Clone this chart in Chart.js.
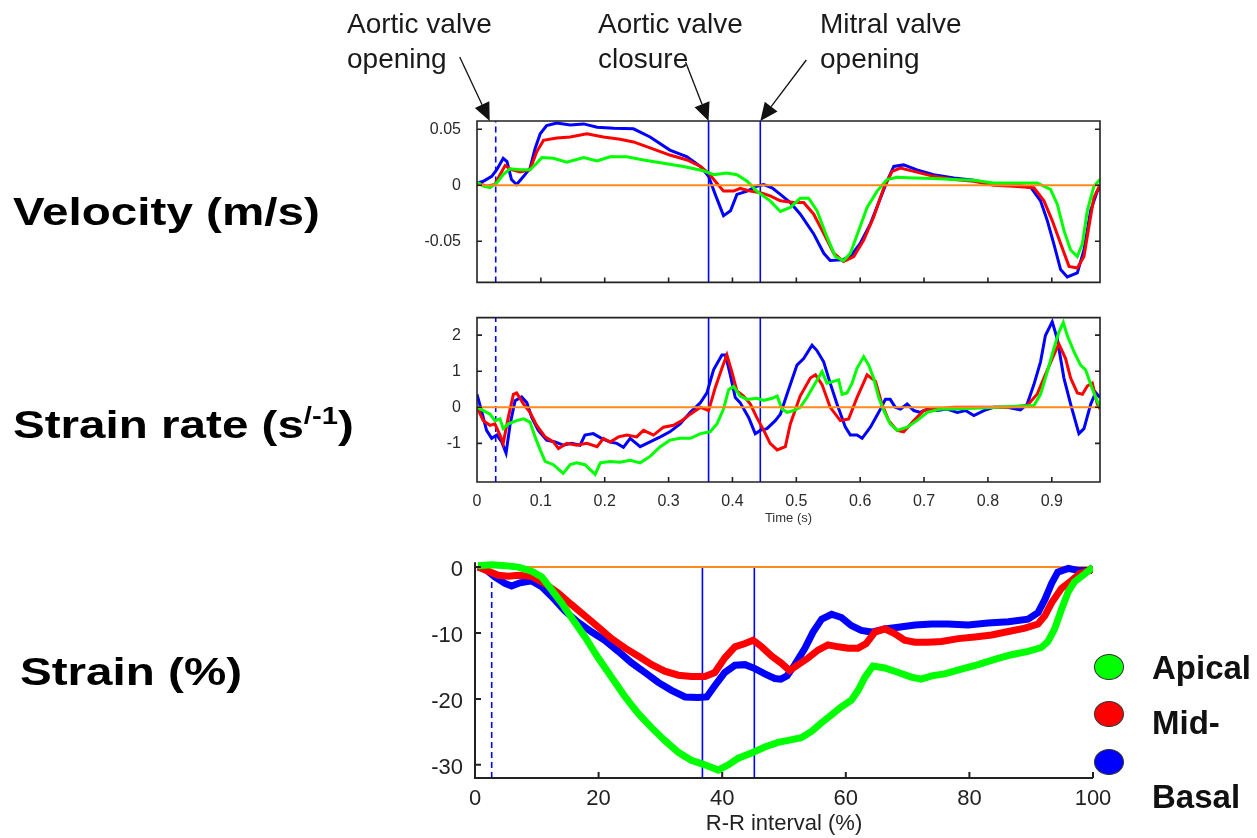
<!DOCTYPE html>
<html>
<head>
<meta charset="utf-8">
<script src="https://cdn.jsdelivr.net/npm/chart.js@4.4.1/dist/chart.umd.min.js"></script>
<style>
body { margin: 0; background: #fff; width: 1257px; height: 838px; overflow: hidden; position: relative; font-family: "Liberation Sans", Arial, sans-serif; }
canvas { position: absolute; left: 0; }
.lab { position: absolute; font-weight: bold; font-size: 39px; line-height: 39px; white-space: nowrap; transform: scaleX(1.22); transform-origin: 0 0; color: #000; }
.lab sup { font-size: 24px; vertical-align: 14px; line-height: 0; }
.note { position: absolute; font-size: 28px; line-height: 35px; color: #1a1a1a; white-space: nowrap; }
.dot { position: absolute; width: 30px; height: 26px; border-radius: 50%; border: 1.5px solid #333; box-sizing: border-box; }
.key { position: absolute; font-weight: bold; font-size: 33px; line-height: 33px; color: #111; white-space: nowrap; }
</style>
</head>
<body>
<canvas id="vel" width="1257" height="300" style="top:0px"></canvas>
<canvas id="sr" width="1257" height="230" style="top:300px"></canvas>
<canvas id="strain" width="1257" height="298" style="top:540px"></canvas>

<div class="note" style="left:347px;top:6px">Aortic valve<br>opening</div>
<div class="note" style="left:598px;top:6px">Aortic valve<br>closure</div>
<div class="note" style="left:820px;top:6px">Mitral valve<br>opening</div>

<div class="lab" style="left:13px;top:192px">Velocity (m/s)</div>
<div class="lab" style="left:13px;top:405px">Strain rate (s<sup>/-1</sup>)</div>
<div class="lab" style="left:20px;top:652px">Strain (%)</div>

<div class="dot" style="left:1094px;top:654px;background:#00ff00"></div>
<div class="dot" style="left:1094px;top:701px;background:#ff0000"></div>
<div class="dot" style="left:1094px;top:749px;background:#0000ff"></div>
<div class="key" style="left:1152px;top:651px">Apical</div>
<div class="key" style="left:1152px;top:706px">Mid-</div>
<div class="key" style="left:1152px;top:780px">Basal</div>

<script>
// --- data: [time (s), value] / [R-R %, value] ---
const timeTicks = [0, 0.1, 0.2, 0.3, 0.4, 0.5, 0.6, 0.7, 0.8, 0.9];
const velTicks = [-0.05, 0, 0.05];
const srTicks = [-1, 0, 1, 2];
const rrTicks = [0, 20, 40, 60, 80, 100];
const strainTicks = [-30, -20, -10, 0];

const markerTimes = [0.0293, 0.3626, 0.4436];   // AVO, AVC, MVO
const markerRR = [2.7, 36.8, 45.2];

const velBasal = [[0,0.002],[0.0099,0.0035],[0.023,0.0079],[0.031,0.0138],[0.041,0.024],[0.047,0.021],[0.054,0.005],[0.062,0.0006],[0.073,0.0079],[0.083,0.015],[0.091,0.0327],[0.099,0.0459],[0.109,0.0532],[0.125,0.0555],[0.146,0.0538],[0.167,0.0547],[0.188,0.0518],[0.214,0.0509],[0.245,0.0503],[0.271,0.043],[0.302,0.0313],[0.329,0.0254],[0.35,0.0167],[0.3626,0.0079],[0.373,-0.0082],[0.386,-0.0272],[0.397,-0.0228],[0.407,-0.0082],[0.423,-0.0053],[0.438,-0.0009],[0.449,0.0006],[0.462,-0.0023],[0.475,-0.0082],[0.4906,-0.0155],[0.506,-0.0257],[0.527,-0.0433],[0.543,-0.0608],[0.553,-0.0673],[0.5716,-0.0667],[0.5846,-0.0637],[0.6,-0.052],[0.616,-0.0345],[0.632,-0.0111],[0.642,0.0035],[0.6526,0.0167],[0.668,0.0181],[0.689,0.0137],[0.715,0.0094],[0.7466,0.0064],[0.778,0.0044],[0.809,0.0006],[0.8406,0.0006],[0.8668,-0.0018],[0.8824,-0.014],[0.893,-0.0316],[0.903,-0.052],[0.9138,-0.0754],[0.9243,-0.0819],[0.94,-0.0784],[0.9504,-0.0579],[0.9608,-0.0228],[0.9713,-0.0053],[0.9755,-0.002]];
const velMid = [[0,0.002],[0.015,-0.0009],[0.028,0.0006],[0.036,0.0094],[0.044,0.0175],[0.054,0.0138],[0.0674,0.0117],[0.083,0.0138],[0.0935,0.0298],[0.104,0.04],[0.125,0.0421],[0.146,0.043],[0.172,0.0459],[0.198,0.043],[0.224,0.041],[0.245,0.0386],[0.271,0.0333],[0.302,0.0269],[0.329,0.0225],[0.35,0.0167],[0.3626,0.0108],[0.373,0.0035],[0.386,-0.0053],[0.4018,-0.0053],[0.4122,-0.0029],[0.428,-0.0053],[0.4436,-0.0067],[0.459,-0.0096],[0.475,-0.014],[0.4958,-0.0155],[0.5115,-0.0155],[0.527,-0.0257],[0.543,-0.0433],[0.5585,-0.0608],[0.574,-0.0681],[0.59,-0.0637],[0.6055,-0.0491],[0.621,-0.0287],[0.637,-0.0023],[0.65,0.0123],[0.663,0.0152],[0.684,0.0123],[0.715,0.0079],[0.7466,0.005],[0.778,0.0035],[0.809,0],[0.8406,-0.0009],[0.872,-0.0023],[0.8877,-0.014],[0.9007,-0.0316],[0.9138,-0.052],[0.927,-0.0725],[0.94,-0.074],[0.9504,-0.0637],[0.958,-0.0374],[0.966,-0.0111],[0.9755,0.0006]];
const velApical = [[0,0.0029],[0.0099,-0.0009],[0.0204,-0.0023],[0.031,0.002],[0.041,0.0094],[0.0517,0.0146],[0.0674,0.0138],[0.083,0.0138],[0.0935,0.0196],[0.1014,0.0246],[0.1196,0.024],[0.1405,0.0205],[0.167,0.0246],[0.188,0.0216],[0.2085,0.0254],[0.2346,0.0254],[0.2607,0.0225],[0.292,0.0196],[0.3234,0.0167],[0.3547,0.0129],[0.3704,0.0094],[0.3913,0.0108],[0.407,0.0094],[0.423,0.0035],[0.438,-0.0053],[0.459,-0.014],[0.475,-0.0235],[0.4906,-0.0199],[0.506,-0.0117],[0.5193,-0.0117],[0.5324,-0.0228],[0.548,-0.0462],[0.5611,-0.0637],[0.574,-0.0673],[0.5846,-0.0608],[0.5977,-0.0404],[0.6108,-0.0199],[0.6265,-0.0053],[0.642,0.005],[0.6578,0.007],[0.684,0.0064],[0.715,0.0059],[0.7466,0.005],[0.778,0.0044],[0.809,0.002],[0.8406,0.002],[0.8772,0.002],[0.898,-0.0038],[0.9086,-0.017],[0.919,-0.0404],[0.9295,-0.0579],[0.94,-0.0637],[0.948,-0.052],[0.9556,-0.0228],[0.966,-0.0009],[0.9755,0.005]];

const srBasal = [[0,0.36],[0.007,-0.095],[0.015,-0.64],[0.023,-0.86],[0.031,-0.77],[0.0387,-0.96],[0.0455,-1.27],[0.052,-0.46],[0.0596,0.18],[0.07,0.285],[0.078,0.13],[0.0857,-0.28],[0.096,-0.64],[0.109,-0.91],[0.1223,-0.96],[0.135,-1.05],[0.148,-1.0],[0.1614,-1.05],[0.169,-0.77],[0.182,-0.73],[0.195,-0.86],[0.2085,-0.96],[0.219,-1.0],[0.2293,-1.11],[0.2398,-0.86],[0.2555,-1.09],[0.271,-0.96],[0.287,-0.82],[0.302,-0.68],[0.318,-0.46],[0.334,-0.14],[0.35,0.13],[0.36,0.4],[0.3704,1.04],[0.3835,1.45],[0.389,1.45],[0.3966,0.9],[0.4044,0.27],[0.412,0.13],[0.4253,-0.28],[0.4357,-0.73],[0.4436,-0.64],[0.454,-0.59],[0.467,-0.37],[0.475,-0.19],[0.4854,0.36],[0.501,1.17],[0.5115,1.35],[0.5246,1.72],[0.532,1.58],[0.5428,1.26],[0.553,0.67],[0.5637,0.09],[0.5768,-0.55],[0.5846,-0.77],[0.595,-0.77],[0.603,-0.86],[0.616,-0.55],[0.629,-0.14],[0.6395,0.22],[0.647,0.22],[0.655,0],[0.663,-0.05],[0.6735,0.09],[0.684,-0.09],[0.694,-0.14],[0.705,-0.05],[0.7205,-0.09],[0.736,-0.05],[0.752,-0.14],[0.765,-0.09],[0.778,-0.23],[0.7936,-0.09],[0.809,0],[0.83,0],[0.851,-0.07],[0.8615,0.09],[0.872,0.63],[0.8824,1.26],[0.89,1.99],[0.9007,2.37],[0.9086,1.9],[0.919,0.81],[0.9295,0.09],[0.9425,-0.73],[0.9504,-0.59],[0.961,0.09],[0.9687,0.41],[0.9755,0.27]];
const srMid = [[0,0],[0.0099,-0.37],[0.0204,-0.5],[0.028,-0.46],[0.036,-0.77],[0.041,-1.0],[0.049,-0.28],[0.057,0.36],[0.062,0.4],[0.073,0.09],[0.083,-0.14],[0.0935,-0.5],[0.1066,-0.82],[0.1196,-0.96],[0.1275,-1.14],[0.1405,-1.0],[0.156,-1.05],[0.172,-1.0],[0.188,-1.09],[0.198,-0.86],[0.2085,-0.96],[0.2215,-0.82],[0.2346,-0.77],[0.25,-0.82],[0.2607,-0.64],[0.2764,-0.77],[0.292,-0.55],[0.3077,-0.5],[0.3208,-0.37],[0.334,-0.19],[0.35,0],[0.3626,-0.09],[0.373,0.54],[0.3835,1.08],[0.3913,1.45],[0.399,0.99],[0.407,0.45],[0.4174,0.31],[0.428,0.09],[0.438,-0.28],[0.449,-0.64],[0.459,-1.0],[0.47,-1.18],[0.4828,-1.09],[0.4906,-0.46],[0.506,0.31],[0.522,0.81],[0.53,0.9],[0.5403,0.63],[0.553,0],[0.569,-0.37],[0.582,-0.32],[0.595,0.27],[0.6108,0.9],[0.624,0.72],[0.634,0.09],[0.6447,-0.37],[0.6578,-0.64],[0.668,-0.68],[0.684,-0.37],[0.6996,-0.09],[0.7205,-0.05],[0.7466,0],[0.788,0],[0.83,0],[0.8615,0.05],[0.877,0.36],[0.8877,0.81],[0.9007,1.35],[0.911,1.76],[0.9216,1.35],[0.9295,0.81],[0.94,0.4],[0.948,0.36],[0.9556,0.59],[0.9634,0.67],[0.9713,0.09],[0.9755,-0.05]];
const srApical = [[0,0],[0.0099,-0.09],[0.0204,-0.19],[0.028,-0.37],[0.036,-0.32],[0.041,-0.59],[0.049,-0.46],[0.062,-0.37],[0.073,-0.32],[0.083,-0.41],[0.091,-0.82],[0.099,-1.18],[0.1066,-1.5],[0.1196,-1.59],[0.135,-1.83],[0.146,-1.59],[0.156,-1.54],[0.169,-1.59],[0.185,-1.86],[0.193,-1.54],[0.2085,-1.5],[0.224,-1.52],[0.24,-1.47],[0.2555,-1.54],[0.271,-1.36],[0.287,-1.09],[0.302,-0.91],[0.318,-0.86],[0.334,-0.86],[0.35,-0.73],[0.365,-0.68],[0.3757,-0.46],[0.386,-0.05],[0.394,0.49],[0.4018,0.58],[0.412,0.31],[0.423,0.22],[0.438,0.25],[0.449,0.19],[0.462,0.25],[0.47,0.31],[0.4775,-0.05],[0.4854,-0.14],[0.4958,-0.09],[0.506,0],[0.5167,0.27],[0.527,0.59],[0.5403,0.99],[0.548,0.67],[0.5585,0.72],[0.5663,0.76],[0.5716,0.36],[0.5794,0.4],[0.5873,0.67],[0.595,1.08],[0.6055,1.4],[0.6133,1.17],[0.621,0.81],[0.629,0.27],[0.637,-0.09],[0.647,-0.46],[0.6578,-0.64],[0.6735,-0.55],[0.689,-0.37],[0.705,-0.14],[0.7257,-0.05],[0.7466,-0.05],[0.788,-0.02],[0.8406,0.02],[0.872,0.05],[0.8824,0.36],[0.893,0.99],[0.9033,1.63],[0.911,2.08],[0.918,2.35],[0.9243,1.99],[0.9347,1.54],[0.945,1.17],[0.953,1.04],[0.961,0.63],[0.9687,0.27],[0.9755,0]];

const strainBasal = [[0.5,0],[1.6,-0.27],[3.2,-1.5],[4.85,-2.48],[5.93,-2.88],[7.28,-2.39],[9.17,-2.09],[10.8,-2.98],[12.4,-4.46],[14.56,-6.67],[16.7,-8.38],[18.9,-9.86],[21,-11.1],[23.2,-12.8],[25.3,-14.5],[27.5,-16],[29.65,-17.5],[31.8,-18.7],[34,-19.7],[36.1,-19.8],[37.5,-19.7],[38.8,-18],[40.4,-16],[42.05,-14.9],[43.7,-14.8],[45.3,-15.4],[46.9,-16.2],[48.5,-16.9],[49.5,-17],[50.5,-16.5],[51.75,-14.8],[53.4,-12.3],[54.7,-9.86],[56.1,-7.9],[57.7,-7.16],[59.3,-7.65],[60.9,-8.88],[62.5,-9.62],[64.2,-9.86],[66.3,-9.37],[68.5,-9.12],[71.2,-8.78],[73.9,-8.63],[76.5,-8.63],[79.8,-8.78],[83,-8.48],[86.3,-8.29],[89.5,-7.9],[91.1,-6.9],[92.2,-4.94],[93.3,-2.48],[94.3,-0.77],[96,-0.2],[97.6,-0.5],[99.5,-0.5],[100,0]];
const strainMid = [[0.5,0],[2.16,-0.62],[3.77,-1.25],[5.4,-1.4],[7,-1.25],[9.17,-1.4],[11.3,-2.48],[13.5,-3.96],[15.6,-5.68],[17.8,-7.4],[19.95,-9.12],[22.1,-10.85],[24.3,-12.3],[26.4,-13.5],[28.6,-14.8],[30.7,-15.8],[32.9,-16.4],[35,-16.6],[37.2,-16.6],[38.8,-16],[40.4,-13.8],[42.05,-12.1],[43.7,-11.6],[45,-11.1],[46.4,-12.1],[48,-13.5],[49.6,-14.6],[50.9,-15.7],[52.3,-14.8],[53.9,-13.8],[55.5,-12.6],[57.1,-11.8],[58.8,-12.1],[60.4,-12.3],[62,-12.3],[63.3,-11.6],[64.7,-9.86],[66.3,-9.37],[67.9,-10.1],[69.5,-11.1],[71.2,-11.4],[73.3,-11.4],[75.5,-11.3],[78.2,-10.85],[80.9,-10.6],[83.6,-10.3],[86.3,-9.77],[89,-9.27],[91.1,-8.63],[92.2,-7.4],[93.3,-5.43],[94.9,-3.22],[96.6,-1.99],[97.85,-1.0],[99.5,-0.5],[100,0]];
const strainApical = [[0.5,0.22],[2.7,0.37],[4.85,0.22],[7,0],[9.17,-0.62],[10.8,-1.5],[12.4,-3.47],[14,-5.43],[15.6,-7.65],[17.8,-10.6],[19.95,-13.8],[22.1,-16.7],[24.3,-19.7],[26.4,-22.2],[28.6,-24.4],[30.7,-26.3],[32.9,-28.1],[35,-29.3],[37.2,-30],[39.35,-30.8],[41,-30],[42.6,-29],[44.75,-28.2],[46.9,-27.3],[49.05,-26.6],[50.7,-26.3],[52.8,-25.9],[54.5,-24.9],[56.1,-23.6],[57.7,-22.4],[59.3,-21.2],[60.9,-20.2],[62,-18.7],[63.1,-16.7],[64.4,-15],[66.3,-15.3],[68.5,-16],[70.6,-16.7],[72.2,-17],[73.9,-16.5],[76,-16.2],[78.7,-15.5],[81.4,-14.8],[84.1,-14],[86.8,-13.3],[89.5,-12.8],[91.65,-12.2],[92.7,-11.3],[93.8,-9.37],[94.9,-6.42],[96,-3.72],[97,-2.24],[98.7,-1.0],[100,0]];

const tMax = 0.9755;
const velRange = [-0.0868, 0.0573];
const srRange = [-2.07, 2.486];
const strainRange = [-32, 1.5];

// --- helpers ---
Chart.defaults.font.family = '"Liberation Sans", Arial, sans-serif';
const BLUE = '#0000ff', RED = '#ff0000', GREEN = '#00ff00', ORANGE = '#ff8a1c';

const line = (pts, color, width, order, dash) => ({
  data: pts.map(([x, y]) => ({ x, y })),
  borderColor: color, borderWidth: width, borderDash: dash || [],
  pointRadius: 0, tension: 0, fill: false, order
});

const frame = {
  id: 'frame',
  afterDatasetsDraw(chart, args, o) {
    const { ctx, chartArea: a, scales: { x, y } } = chart;
    ctx.save();
    ctx.strokeStyle = '#222';
    ctx.lineWidth = o.width;
    ctx.beginPath();
    if (o.box) {
      ctx.rect(a.left, a.top, a.right - a.left, a.bottom - a.top);
    } else {
      ctx.moveTo(a.left, a.top + 5);
      ctx.lineTo(a.left, a.bottom);
      ctx.lineTo(a.right, a.bottom);
    }
    x.ticks.forEach(t => {
      if (t.value <= x.min) return;
      const px = x.getPixelForValue(t.value);
      ctx.moveTo(px, a.bottom);
      ctx.lineTo(px, a.bottom - o.tick);
    });
    y.ticks.forEach(t => {
      const py = y.getPixelForValue(t.value);
      ctx.moveTo(a.left, py);
      ctx.lineTo(a.left + o.tick, py);
      if (o.box) { ctx.moveTo(a.right, py); ctx.lineTo(a.right - o.tick, py); }
    });
    ctx.stroke();
    ctx.restore();
  }
};

// arrows from the valve-event notes down to the top of the velocity box
const arrows = {
  id: 'arrows',
  afterDraw(chart, args, o) {
    const { ctx, chartArea: a, scales: { x } } = chart;
    ctx.save();
    ctx.strokeStyle = '#111';
    ctx.fillStyle = '#111';
    ctx.lineWidth = 1.3;
    o.tails.forEach(([dx, dy, tipShift], i) => {
      const tx = x.getPixelForValue(markerTimes[i]) + tipShift, ty = a.top;
      const sx = tx + dx, sy = ty + dy;
      const ang = Math.atan2(ty - sy, tx - sx);
      const L = 18, W = 8;
      const bx = tx - L * Math.cos(ang), by = ty - L * Math.sin(ang);
      ctx.beginPath();
      ctx.moveTo(sx, sy);
      ctx.lineTo(bx, by);
      ctx.stroke();
      ctx.beginPath();
      ctx.moveTo(tx, ty);
      ctx.lineTo(bx + W * Math.sin(ang), by - W * Math.cos(ang));
      ctx.lineTo(bx - W * Math.sin(ang), by + W * Math.cos(ang));
      ctx.closePath();
      ctx.fill();
    });
    ctx.restore();
  }
};

const markers = (xs, y0, y1, width) => xs.map((t, i) =>
  line([[t, y0], [t, y1]], BLUE, width, 20, i === 0 ? [6, 4] : []));

const fixedTicks = arr => s => { s.ticks = arr.map(v => ({ value: v })); };

function panel(id, cfg) {
  return new Chart(document.getElementById(id), {
    type: 'line',
    data: { datasets: cfg.datasets },
    options: {
      responsive: false, animation: false, devicePixelRatio: 1,
      layout: { padding: cfg.padding },
      plugins: { legend: { display: false }, tooltip: { enabled: false }, frame: cfg.frame, arrows: cfg.arrows || { tails: [] } },
      scales: {
        x: {
          type: 'linear', min: cfg.xMin, max: cfg.xMax,
          afterBuildTicks: fixedTicks(cfg.xTicks),
          afterFit: s => { s.height = cfg.xHeight; },
          ticks: cfg.xTickOpts,
          title: cfg.xTitle || { display: false },
          grid: { display: false }, border: { display: false }
        },
        y: {
          type: 'linear', min: cfg.yRange[0], max: cfg.yRange[1],
          afterBuildTicks: fixedTicks(cfg.yTicks),
          afterFit: s => { s.width = cfg.yWidth; },
          ticks: cfg.yTickOpts,
          grid: { display: false }, border: { display: false }
        }
      }
    },
    plugins: cfg.plugins
  });
}

const smallTicks = { font: { size: 16 }, color: '#2a2a2a', padding: 8, callback: v => String(v) };

// velocity
panel('vel', {
  datasets: [
    line([[0, 0], [tMax, 0]], ORANGE, 2, 0),
    line(velApical, GREEN, 3, 1),
    line(velMid, RED, 3, 2),
    line(velBasal, BLUE, 3, 3),
    ...markers(markerTimes, velRange[0], velRange[1], 1.6)
  ],
  padding: { top: 121, right: 157, left: 0, bottom: 0 },
  xMin: 0, xMax: tMax, xTicks: timeTicks, xHeight: 15,
  xTickOpts: { display: false },
  yRange: velRange, yTicks: velTicks, yWidth: 477, yTickOpts: smallTicks,
  frame: { box: true, width: 1.6, tick: 5 },
  arrows: { tails: [[-30, -64, -6], [-23, -59, 0], [46, -61, 0]] },
  plugins: [frame, arrows]
});

// strain rate
panel('sr', {
  datasets: [
    line([[0, 0], [tMax, 0]], ORANGE, 2, 0),
    line(srApical, GREEN, 3, 1),
    line(srMid, RED, 3, 2),
    line(srBasal, BLUE, 3, 3),
    ...markers(markerTimes, srRange[0], srRange[1], 1.6)
  ],
  padding: { top: 15, right: 157, left: 0, bottom: 0 },
  xMin: 0, xMax: tMax, xTicks: timeTicks, xHeight: 48,
  xTickOpts: { font: { size: 16 }, color: '#2a2a2a', padding: 2, callback: v => String(v) },
  xTitle: { display: true, text: 'Time (s)', font: { size: 13 }, color: '#333', padding: { top: 0, bottom: 4 } },
  yRange: srRange, yTicks: srTicks, yWidth: 477, yTickOpts: smallTicks,
  frame: { box: true, width: 1.6, tick: 5 },
  plugins: [frame]
});

// strain
panel('strain', {
  datasets: [
    line(strainApical, GREEN, 7, 1),
    line(strainMid, RED, 7, 2),
    line(strainBasal, BLUE, 7, 3),
    line([[0, 0], [100, 0]], ORANGE, 2, 4),
    ...markers(markerRR, strainRange[0], 0, 1.6)
  ],
  padding: { top: 11, right: 164, left: 0, bottom: 0 },
  xMin: 0, xMax: 100, xTicks: rrTicks, xHeight: 60,
  xTickOpts: { font: { size: 22 }, color: '#222', padding: 0 },
  xTitle: { display: true, text: 'R-R interval (%)', font: { size: 22 }, color: '#222', padding: { top: 0, bottom: 1 } },
  yRange: strainRange, yTicks: strainTicks, yWidth: 475,
  yTickOpts: { font: { size: 22 }, color: '#222', padding: 4, labelOffset: 3 },
  frame: { box: false, width: 2, tick: 6 },
  plugins: [frame]
});
</script>
</body>
</html>
